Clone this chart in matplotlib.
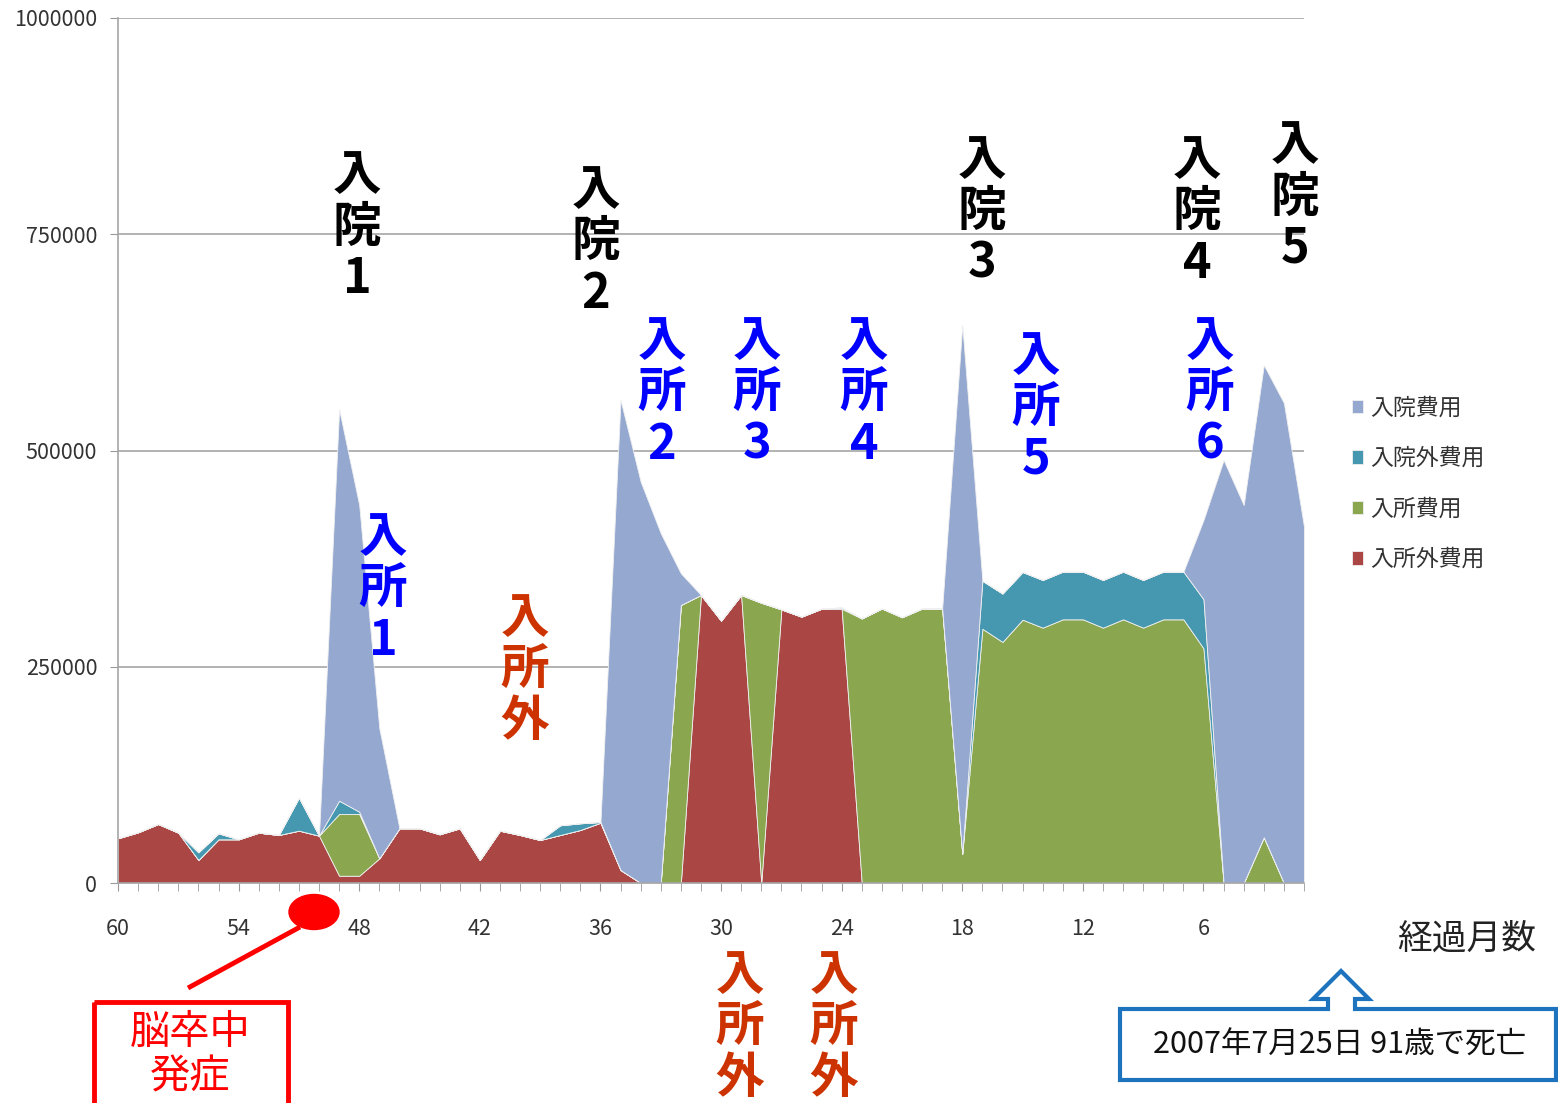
import numpy as np
import matplotlib
matplotlib.use("Agg")
import matplotlib.pyplot as plt
from matplotlib.patches import Ellipse, Rectangle, Polygon

plt.rcParams['font.family'] = ['Noto Sans CJK JP', 'DejaVu Sans']

# months elapsed (60 -> 1)
months = list(range(60, 0, -1))

# 入所外費用 (bottom layer)
nyusho_gai = [51700, 58600, 68200, 58200, 26600, 50500, 50500, 58200, 55500, 60500,
              54700, 8400, 8400, 28500, 63200, 63200, 56300, 63200, 26600, 60500,
              55500, 49700, 55500, 61300, 69700, 15000, 0, 0, 0, 333000,
              303300, 333000, 0, 316300, 307900, 317100, 317100, 0, 0, 0,
              0, 0, 0, 0, 0, 0, 0, 0, 0, 0,
              0, 0, 0, 0, 0, 0, 0, 0, 0, 0]
# 入所費用
nyusho = [0, 0, 0, 0, 0, 0, 0, 0, 0, 0,
          0, 71400, 71400, 0, 0, 0, 0, 0, 0, 0,
          0, 0, 0, 0, 0, 0, 0, 0, 321400, 0,
          0, 0, 324000, 0, 0, 0, 0, 305800, 317300, 307200,
          317300, 317300, 33700, 293900, 278700, 304400, 295200, 304800, 304800, 295200,
          304800, 295200, 304800, 304800, 271300, 0, 0, 52800, 0, 0]
# 入院外費用
nyuin_gai = [0, 0, 0, 0, 8900, 6900, 0, 0, 0, 38100,
             0, 15300, 2600, 0, 0, 0, 0, 0, 0, 0,
             0, 0, 11200, 7700, 800, 0, 0, 0, 0, 0,
             0, 0, 0, 0, 0, 0, 1500, 0, 0, 0,
             0, 0, 0, 55500, 55900, 55100, 55100, 55100, 55100, 55100,
             55100, 55100, 55100, 55100, 56700, 0, 0, 0, 0, 0]
# 入院費用 (top layer)
nyuin = [0, 0, 0, 0, 0, 0, 0, 0, 0, 0,
         0, 452500, 354600, 150300, 0, 0, 0, 0, 0, 0,
         0, 0, 0, 0, 0, 543400, 464000, 404300, 36600, 0,
         0, 0, 0, 0, 0, 0, 0, 0, 0, 0,
         0, 0, 611300, 0, 0, 0, 0, 0, 0, 0,
         0, 0, 0, 0, 91700, 489000, 437000, 546000, 555000, 411900]

labels = ['入所外費用', '入所費用', '入院外費用', '入院費用']
colors = ['#AA4744', '#8AA64E', '#4598AF', '#95A9D0']

x_ticks = [60, 54, 48, 42, 36, 30, 24, 18, 12, 6]
y_ticks = [0, 250000, 500000, 750000, 1000000]

W, H = 1558, 1103
fig = plt.figure(figsize=(W / 100, H / 100), dpi=100)
ax = fig.add_axes([118 / W, (H - 883) / H, (1304 - 118) / W, (883 - 18) / H])

polys = ax.stackplot(months, nyusho_gai, nyusho, nyuin_gai, nyuin,
                     colors=colors, labels=labels, edgecolor='#f0f0f0', linewidth=0.6)

ax.set_xlim(60, 1)
ax.set_ylim(0, 1000000)
ax.set_xticks(x_ticks)
ax.set_xticks(months, minor=True)
ax.set_xticklabels([str(v) for v in x_ticks])
ax.set_yticks(y_ticks)
ax.set_yticklabels([str(v) for v in y_ticks])
ax.tick_params(axis='x', which='both', direction='out', length=6, color='#999999',
               labelsize=15.5, labelcolor='#333333', pad=19)
ax.tick_params(axis='y', direction='out', length=6, color='#999999',
               labelsize=15.5, labelcolor='#333333', pad=9)
ax.grid(axis='y', color='#a6a6a6', linewidth=1.2)
ax.set_axisbelow(True)
for s in ['top', 'right']:
    ax.spines[s].set_visible(False)
for s in ['left', 'bottom']:
    ax.spines[s].set_color('#a6a6a6')
    ax.spines[s].set_linewidth(1.2)

handles = polys[::-1]
ax.legend(handles, labels[::-1], loc='upper left', frameon=False,
          bbox_to_anchor=(1331 / W, 1 - 376 / H), bbox_transform=fig.transFigure,
          fontsize=16.5, handlelength=0.5, handleheight=0.5, handletextpad=0.3,
          labelspacing=1.2, labelcolor='#333333')

# overlay in pixel coordinates for the annotations
ov = fig.add_axes([0, 0, 1, 1])
ov.set_xlim(0, W)
ov.set_ylim(H, 0)
ov.axis('off')
ov.patch.set_alpha(0)

big = dict(ha='center', va='center', fontsize=35, fontweight='bold', linespacing=1.06)
for x, y, t in [(357, 227, '入\n院\n1'), (596, 242, '入\n院\n2'), (982, 212, '入\n院\n3'),
                (1197, 212, '入\n院\n4'), (1295, 197, '入\n院\n5')]:
    ov.text(x, y, t, color='black', **big)
for x, y, t in [(383, 589, '入\n所\n1'), (662, 393, '入\n所\n2'), (757, 393, '入\n所\n3'),
                (864, 393, '入\n所\n4'), (1036, 408, '入\n所\n5'), (1210, 393, '入\n所\n6')]:
    ov.text(x, y, t, color='#0000FF', **big)
for x, y in [(525, 670), (740, 1027), (834, 1027)]:
    ov.text(x, y, '入\n所\n外', color='#CC3300', **big)

# stroke onset marker
ov.add_patch(Ellipse((314, 912), 50, 35, color='#FF0000', zorder=5))
ov.plot([300, 188], [927, 988], color='#FF0000', linewidth=3.5, solid_capstyle='butt')
ov.add_patch(Rectangle((94, 1002), 194, 110, fill=False, edgecolor='#FF0000', linewidth=3.5))
ov.text(190, 1055, '脳卒中\n発症', ha='center', va='center', color='#FF0000',
        fontsize=29, linespacing=1.1)

ov.text(1467, 939, '経過月数', ha='center', va='center', fontsize=25, color='#222222')

callout = [(1120, 1009), (1328, 1009), (1328, 999), (1313, 999), (1341, 971),
           (1369, 999), (1355, 999), (1355, 1009), (1556, 1009), (1556, 1080), (1120, 1080)]
ov.add_patch(Polygon(callout, closed=True, facecolor='white', edgecolor='#1E73BE',
                     linewidth=3, joinstyle='miter'))
ov.text(1340, 1045, '2007年7月25日 91歳で死亡', ha='center', va='center',
        fontsize=22, color='#111111')

fig.savefig('out.png', dpi=100)
